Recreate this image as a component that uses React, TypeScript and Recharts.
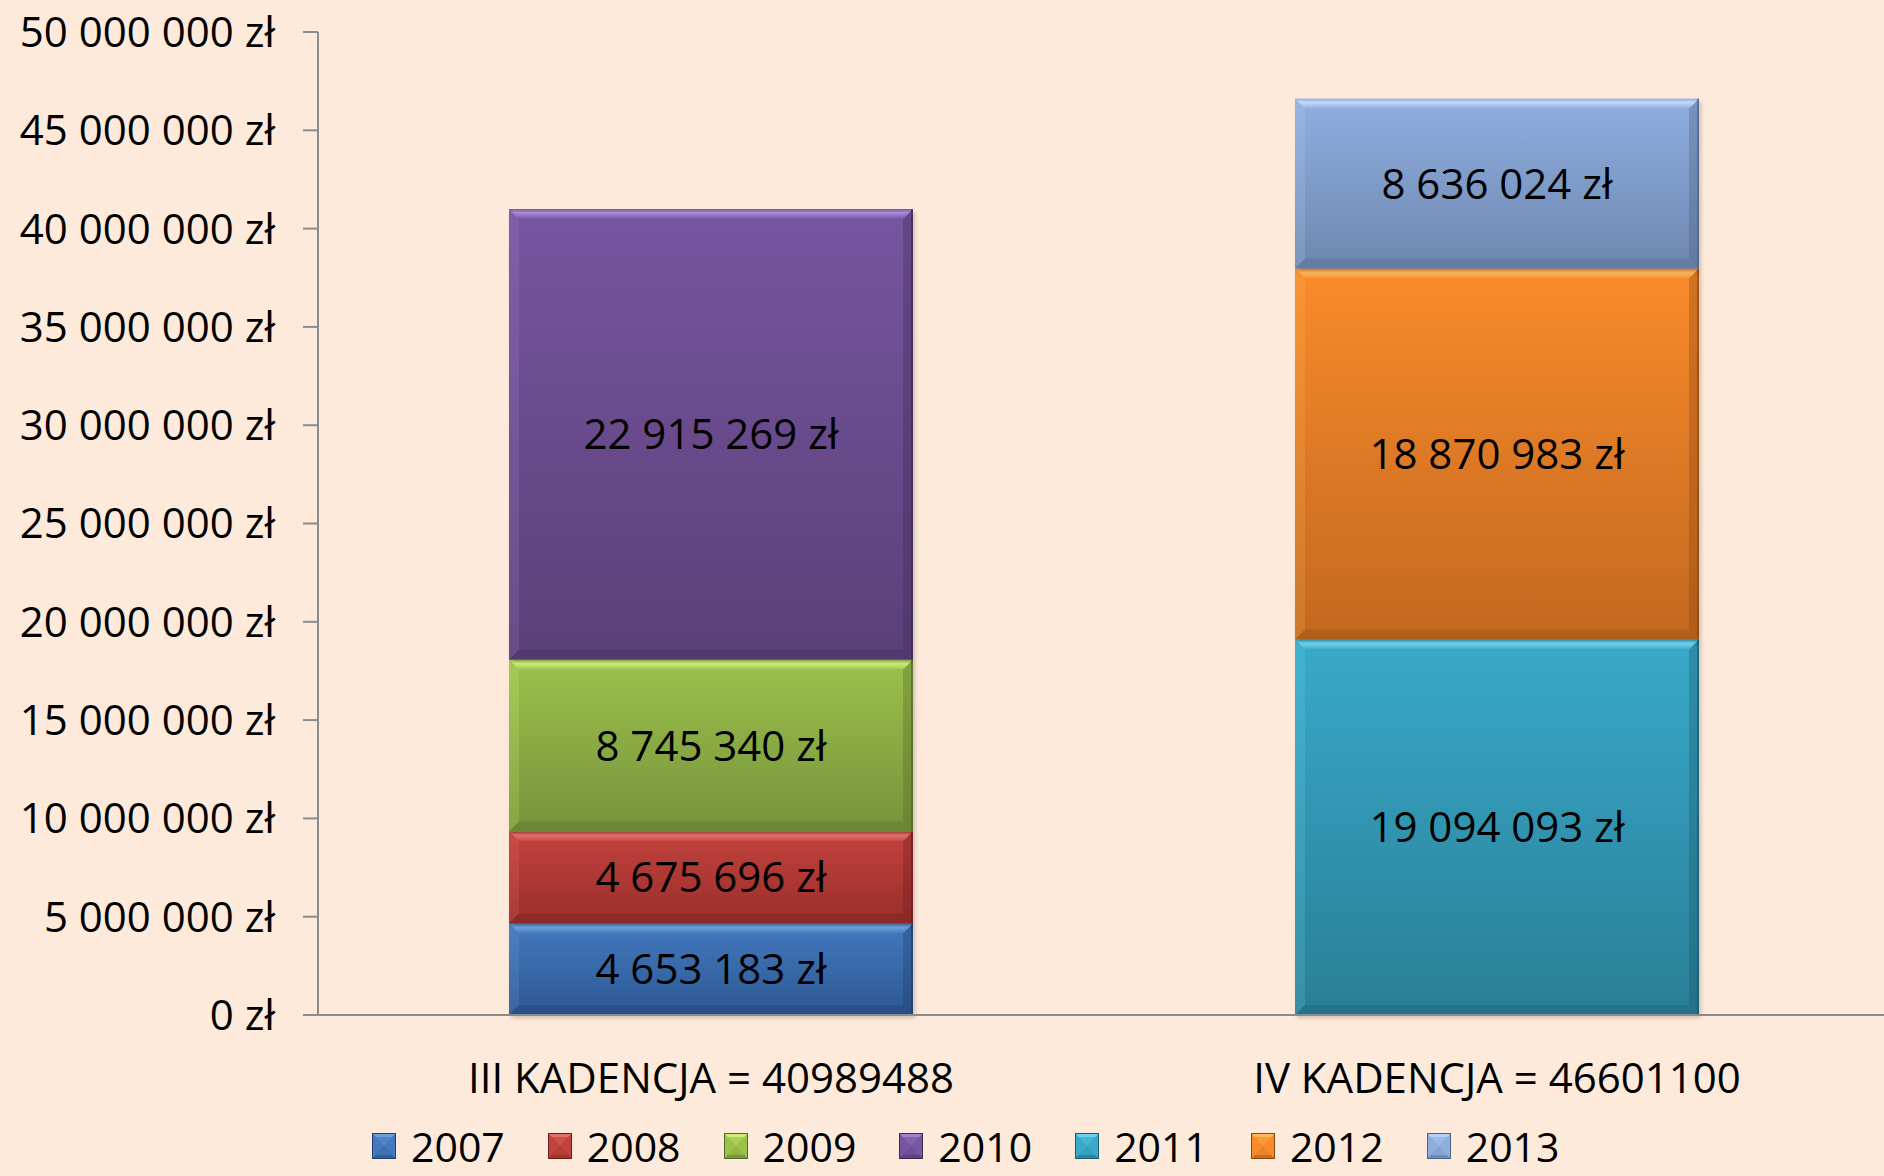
import React from "react";
import { BarChart, Bar, XAxis, YAxis, Legend, LabelList } from "recharts";

const FONT = "'Open Sans', 'Noto Sans', sans-serif";

const categories = ["III KADENCJA = 40989488", "IV KADENCJA = 46601100"];
const years = ["2007", "2008", "2009", "2010", "2011", "2012", "2013"];

const v2007 = [4653183, null];
const v2008 = [4675696, null];
const v2009 = [8745340, null];
const v2010 = [22915269, null];
const v2011 = [null, 19094093];
const v2012 = [null, 18870983];
const v2013 = [null, 8636024];
const seriesValues = [v2007, v2008, v2009, v2010, v2011, v2012, v2013];

const yTicks = [0, 5000000, 10000000, 15000000, 20000000, 25000000, 30000000, 35000000, 40000000, 45000000, 50000000];

const data = categories.map((name, i) => {
  const row: any = { name };
  years.forEach((y, k) => {
    row["y" + y] = seriesValues[k][i];
  });
  return row;
});

// colours: top / bottom of the body gradient, bevel highlight, bevel shade
const palette = [
  { top: "#4379BF", bottom: "#2D5892", hi: "#79A6E0", dark: "#1F3F6A" },
  { top: "#C2423D", bottom: "#992E2B", hi: "#EC7A74", dark: "#6E1F1D" },
  { top: "#9CC14C", bottom: "#75933A", hi: "#D9F77F", dark: "#526928" },
  { top: "#7855A0", bottom: "#5A4079", hi: "#AA8CD8", dark: "#3E2B56" },
  { top: "#38AACA", bottom: "#2A7E96", hi: "#78DDF5", dark: "#1C5A6C" },
  { top: "#F98B2B", bottom: "#C3681F", hi: "#FFC066", dark: "#8A4915" },
  { top: "#8FAEE0", bottom: "#6E87B0", hi: "#C2DAFA", dark: "#4E6282" },
];

const fmt = (v: number) => String(Math.round(v)).replace(/\B(?=(\d{3})+(?!\d))/g, " ");
const fmtZl = (v: any) => (v === null || v === undefined || v === 0 ? "" : fmt(Number(v)) + " zł");

const BevelBar = (props: any) => {
  const { x, y, width, height, idx } = props;
  if (!height || height <= 0 || isNaN(height)) return null;
  const c = palette[idx];
  const b = Math.min(10, height / 4);
  const r = x + width;
  const btm = y + height;
  return (
    <g>
      <rect x={x + 2} y={y + 3} width={width} height={height} fill="#000" opacity={0.18} filter="url(#shadowBlur)" />
      <rect x={x} y={y} width={width} height={height} fill={`url(#grad${idx})`} />
      <polygon points={`${x},${y} ${r},${y} ${r - b},${y + b} ${x + b},${y + b}`} fill={`url(#hiGrad${idx})`} />
      <polygon points={`${x},${y} ${x + b},${y + b} ${x + b},${btm - b} ${x},${btm}`} fill={c.hi} opacity={0.18} />
      <polygon points={`${r},${y} ${r},${btm} ${r - b},${btm - b} ${r - b},${y + b}`} fill={c.dark} opacity={0.35} />
      <polygon points={`${x},${btm} ${r},${btm} ${r - b},${btm - b} ${x + b},${btm - b}`} fill={c.dark} opacity={0.3} />
      <line x1={r - 1} y1={y} x2={r - 1} y2={btm} stroke={c.dark} strokeWidth={2} opacity={0.7} />
    </g>
  );
};

const LegendIcon = ({ idx }: { idx: number }) => {
  const c = palette[idx];
  const w = 24;
  const h = 26;
  const b = 8;
  return (
    <svg width={w} height={h} style={{ display: "block" }}>
      <rect x={0} y={0} width={w} height={h} fill={c.top} />
      <polygon points={`0,0 ${w},0 ${w / 2},${h / 2}`} fill={c.hi} opacity={0.8} />
      <polygon points={`0,${h} ${w},${h} ${w / 2},${h / 2}`} fill={c.dark} opacity={0.45} />
      <rect x={b / 2} y={b / 2} width={w - b} height={h - b} fill={c.top} opacity={0.7} />
      <rect x={0.5} y={0.5} width={w - 1} height={h - 1} fill="none" stroke={c.dark} strokeWidth={1} />
    </svg>
  );
};

const LegendContent = (props: any) => {
  const { payload } = props;
  return (
    <div style={{ display: "flex", alignItems: "center", fontFamily: FONT, fontSize: 41, lineHeight: "56px", color: "#000" }}>
      {(payload || []).map((entry: any) => (
        <div key={entry.value} style={{ display: "flex", alignItems: "center", marginRight: 43 }}>
          <LegendIcon idx={years.indexOf(entry.value)} />
          <span style={{ marginLeft: 15 }}>{entry.value}</span>
        </div>
      ))}
    </div>
  );
};

export default function App() {
  return (
    <div style={{ position: "absolute", left: 0, top: 0, width: 1884, height: 1176, overflow: "hidden", background: "#FDEADA" }}>
      <BarChart
        width={1890}
        height={1176}
        data={data}
        margin={{ top: 32, right: 0, left: 0, bottom: 0 }}
        style={{ fontFamily: FONT }}
      >
        <defs>
          {palette.map((c, k) => (
            <linearGradient key={"g" + k} id={`grad${k}`} x1="0" y1="0" x2="0" y2="1">
              <stop offset="0%" stopColor={c.top} />
              <stop offset="100%" stopColor={c.bottom} />
            </linearGradient>
          ))}
          {palette.map((c, k) => (
            <linearGradient key={"h" + k} id={`hiGrad${k}`} x1="0" y1="0" x2="0" y2="1">
              <stop offset="0%" stopColor={c.top} />
              <stop offset="35%" stopColor={c.hi} />
              <stop offset="100%" stopColor={c.top} />
            </linearGradient>
          ))}
          <filter id="shadowBlur" x="-10%" y="-10%" width="120%" height="120%">
            <feGaussianBlur stdDeviation="2" />
          </filter>
        </defs>
        <XAxis
          dataKey="name"
          height={161}
          axisLine={{ stroke: "#8C8C8C", strokeWidth: 2 }}
          tickLine={false}
          tickSize={0}
          tickMargin={48}
          tick={{ fill: "#000", fontSize: 42, fontFamily: FONT }}
        />
        <YAxis
          width={318}
          domain={[0, 50000000]}
          ticks={yTicks}
          interval={0}
          tickFormatter={(v: number) => fmt(v) + " zł"}
          axisLine={{ stroke: "#8C8C8C", strokeWidth: 2 }}
          tickLine={{ stroke: "#8C8C8C", strokeWidth: 2 }}
          tickSize={15}
          tickMargin={28}
          tick={{ fill: "#000", fontSize: 42, fontFamily: FONT }}
        />
        <Legend
          layout="horizontal"
          verticalAlign="middle"
          content={<LegendContent />}
          wrapperStyle={{ left: 372, top: 1118, width: "auto" }}
        />
        {years.map((y, k) => (
          <Bar
            key={y}
            dataKey={"y" + y}
            name={y}
            stackId="a"
            barSize={404}
            fill={palette[k].top}
            isAnimationActive={false}
            shape={(p: any) => <BevelBar {...p} idx={k} />}
          >
            <LabelList
              dataKey={"y" + y}
              position="center"
              formatter={fmtZl}
              fill="#000"
              fontSize={42}
              fontFamily={FONT}
            />
          </Bar>
        ))}
      </BarChart>
    </div>
  );
}
